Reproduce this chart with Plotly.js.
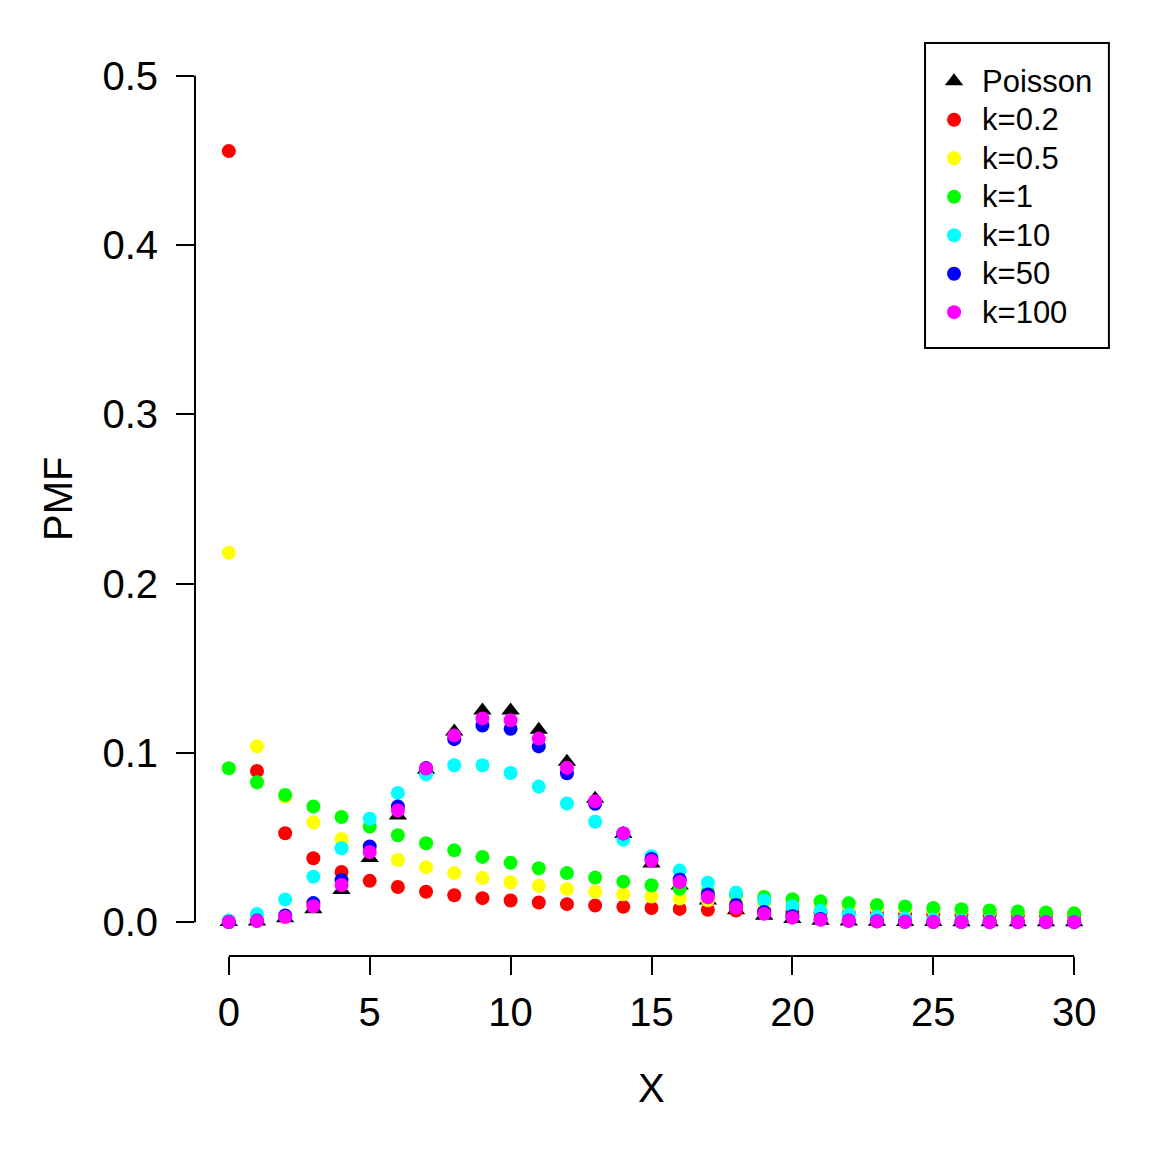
<!DOCTYPE html>
<html>
<head>
<meta charset="utf-8">
<script src="https://cdn.plot.ly/plotly-3.0.1.min.js"></script>
<style>html,body{margin:0;padding:0;background:#fff;}#chart{width:1152px;height:1152px;}</style>
</head>
<body>
<div id="chart"></div>
<script>
var xVals = [0,1,2,3,4,5,6,7,8,9,10,11,12,13,14,15,16,17,18,19,20,21,22,23,24,25,26,27,28,29,30];

var poisson = [0.0000454,0.000454,0.00227,0.00757,0.01892,0.03783,0.06306,0.09008,0.11260,0.12511,0.12511,0.11374,0.09478,0.07291,0.05208,0.03472,0.02170,0.01276,0.00709,0.00373,0.00187,0.00089,0.00040,0.00018,0.000072,0.000029,0.000011,0.0000041,0.0000015,0.0000005,0.0000002];
var k02 = [0.45554,0.089322,0.052542,0.037775,0.029628,0.024399,0.020731,0.018002,0.015884,0.014188,0.012797,0.011634,0.010645,0.009794,0.009053,0.008402,0.007826,0.007311,0.006849,0.006432,0.006054,0.005709,0.005394,0.005104,0.004837,0.004591,0.004362,0.004150,0.003952,0.003768,0.003596];
var k05 = [0.218218,0.103913,0.074224,0.058908,0.049090,0.042077,0.036734,0.032486,0.029005,0.026090,0.023605,0.021459,0.019586,0.017936,0.016472,0.015165,0.013991,0.012933,0.011975,0.011105,0.010312,0.009587,0.008923,0.008313,0.007752,0.007235,0.006758,0.006317,0.005909,0.005531,0.005180];
var k1 = [0.090909,0.082645,0.075131,0.068301,0.062092,0.056447,0.051316,0.046651,0.042410,0.038554,0.035049,0.031863,0.028966,0.026333,0.023939,0.021763,0.019784,0.017986,0.016351,0.014864,0.013513,0.012284,0.011168,0.010153,0.009230,0.008391,0.007628,0.006934,0.006304,0.005731,0.005210];
var k10 = [0.000977,0.004883,0.013428,0.026855,0.043640,0.061096,0.076370,0.087280,0.092735,0.092735,0.088099,0.080090,0.070079,0.059297,0.048708,0.038967,0.030443,0.023280,0.017460,0.012865,0.009327,0.006662,0.004694,0.003265,0.002245,0.001527,0.001028,0.000685,0.000453,0.000297,0.000193];
var k50 = [0.0001099,0.0009159,0.003893,0.011245,0.024834,0.044701,0.068293,0.091057,0.108130,0.116140,0.114204,0.103822,0.087960,0.069917,0.052438,0.037289,0.025248,0.016337,0.010135,0.006045,0.003476,0.001931,0.001039,0.000542,0.000275,0.000135,0.000065,0.0000305,0.000014,0.0000063,0.0000028];
var k100 = [0.00007257,0.0006597,0.0030287,0.0093614,0.021914,0.041437,0.065923,0.090751,0.110345,0.120376,0.119282,0.108438,0.091187,0.071419,0.052405,0.036207,0.023658,0.014675,0.008672,0.004896,0.002648,0.001376,0.000688,0.000332,0.000155,0.0000697,0.0000305,0.0000129,0.0000053,0.0000021,0.0000008];

var seriesNames = ['Poisson','k=0.2','k=0.5','k=1','k=10','k=50','k=100'];
var seriesData = [poisson,k02,k05,k1,k10,k50,k100];
var seriesColors = ['#000000','#FF0000','#FFFF00','#00FF00','#00FFFF','#0000FF','#FF00FF'];

var xTicks = [0,5,10,15,20,25,30];
var yTicks = [0,0.1,0.2,0.3,0.4,0.5];
var yTickText = ['0.0','0.1','0.2','0.3','0.4','0.5'];

var traces = seriesNames.map(function(name, i){
  return {
    x: xVals, y: seriesData[i],
    name: '<span style="font-size:31px">' + name + '</span>',
    type: 'scatter', mode: 'markers',
    marker: {
      color: seriesColors[i],
      symbol: i === 0 ? 'triangle-up' : 'circle',
      size: i === 0 ? 16 : 14,
      line: {width: 0}
    },
    cliponaxis: false
  };
});

var FONT = 'Liberation Sans, Arial, sans-serif';
var layout = {
  width: 1152, height: 1152,
  margin: {l: 195, r: 44, t: 42, b: 196, pad: 0},
  paper_bgcolor: '#ffffff', plot_bgcolor: '#ffffff',
  font: {family: FONT, color: '#000000'},
  showlegend: true,
  legend: {
    x: 0.8007, xanchor: 'left', y: 0.9836, yanchor: 'top',
    borderwidth: 0, bgcolor: 'rgba(0,0,0,0)',
    font: {family: FONT, size: 27.3, color: '#000000'},
    tracegroupgap: 0, itemwidth: 46
  },
  xaxis: {
    range: [-1.2, 31.2], showgrid: false, zeroline: false, showline: false,
    tickmode: 'array', tickvals: xTicks, ticktext: xTicks.map(String),
    ticks: 'outside', ticklen: 18, tickwidth: 2, tickcolor: '#000000',
    tickfont: {family: FONT, size: 40, color: '#000000'},
    ticklabelstandoff: 3
  },
  yaxis: {
    range: [-0.02, 0.52], showgrid: false, zeroline: false, showline: false,
    tickmode: 'array', tickvals: yTicks, ticktext: yTickText,
    ticks: 'outside', ticklen: 18, tickwidth: 2, tickcolor: '#000000',
    tickfont: {family: FONT, size: 40, color: '#000000'},
    ticklabelstandoff: 10
  },
  shapes: [
    {type: 'line', xref: 'x', yref: 'paper', x0: 0, x1: 30, y0: 0, y1: 0, line: {color: '#000000', width: 2}},
    {type: 'line', xref: 'paper', yref: 'y', x0: 0, x1: 0, y0: 0, y1: 0.5, line: {color: '#000000', width: 2}},
    {type: 'rect', xref: 'paper', yref: 'paper', x0: 0.7996, x1: 1.001, y0: 0.6652, y1: 0.9989, line: {color: '#000000', width: 2}, fillcolor: 'rgba(0,0,0,0)', layer: 'above'}
  ],
  annotations: [
    {text: 'X', xref: 'paper', yref: 'paper', x: 0.5, y: -0.1444, xanchor: 'center', yanchor: 'middle', showarrow: false, font: {family: FONT, size: 40, color: '#000000'}},
    {text: 'PMF', xref: 'paper', yref: 'paper', x: -0.15, y: 0.5, xanchor: 'center', yanchor: 'middle', textangle: -90, showarrow: false, font: {family: FONT, size: 40, color: '#000000'}}
  ]
};

Plotly.newPlot('chart', traces, layout, {displayModeBar: false, staticPlot: true});
</script>
</body>
</html>
